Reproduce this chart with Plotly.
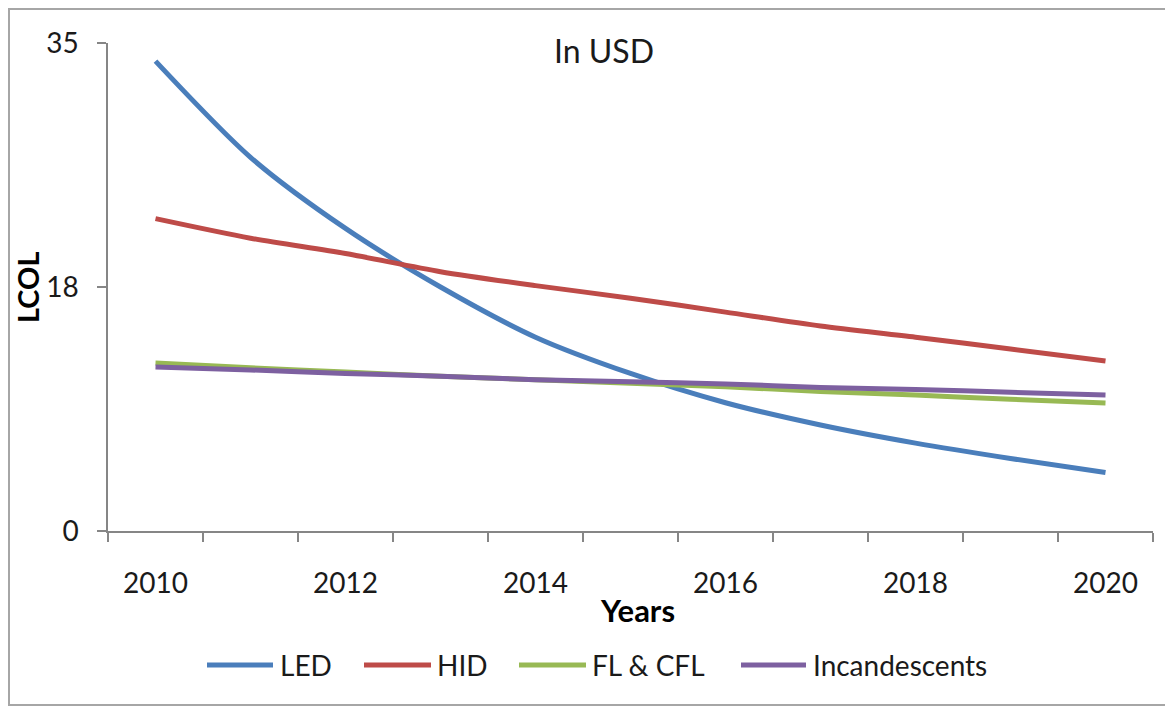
import plotly.graph_objects as go

years = list(range(2010, 2021))
led = [33.7, 26.8, 21.7, 17.5, 13.9, 11.3, 9.2, 7.6, 6.3, 5.2, 4.2]
hid = [22.4, 21.0, 19.9, 18.6, 17.6, 16.7, 15.7, 14.7, 13.9, 13.05, 12.2]
fl_cfl = [12.05, 11.7, 11.4, 11.1, 10.85, 10.6, 10.35, 10.0, 9.75, 9.45, 9.18]
incandescent = [11.76, 11.55, 11.3, 11.1, 10.85, 10.7, 10.55, 10.3, 10.15, 9.95, 9.75]

y_tickvals = [0, 17.5, 35]
y_ticktext = ["0", "18", "35"]
x_tickvals = [2010, 2012, 2014, 2016, 2018, 2020]

SERIES = [
    ("LED", led, "#4A7EBB"),
    ("HID", hid, "#BE4B48"),
    ("FL & CFL", fl_cfl, "#98B954"),
    ("Incandescents", incandescent, "#7D60A0"),
]

FONT = "Lato, 'Open Sans', sans-serif"
AXIS_GREY = "#868686"

# the page body has an 8px margin, so the figure is sized and offset for it
PLOT_LEFT, PLOT_RIGHT, PLOT_TOP, PLOT_BOTTOM = 108, 1153, 43, 531


def px_x(px):
    return (px - PLOT_LEFT) / (PLOT_RIGHT - PLOT_LEFT)


def px_y(py):
    return (PLOT_BOTTOM - py) / (PLOT_BOTTOM - PLOT_TOP)


fig = go.Figure()
for name, values, color in SERIES:
    fig.add_trace(
        go.Scatter(
            x=years,
            y=values,
            name=name,
            mode="lines",
            line=dict(color=color, width=5, shape="spline", smoothing=0.8),
            showlegend=False,
        )
    )

# hand-drawn legend with long Excel-style swatches
legend_pos = [(207, 273, 278), (364, 431, 435), (519, 586, 590), (741, 806, 811)]
legend_y = px_y(665)
shapes = [
    dict(type="rect", xref="paper", yref="paper",
         x0=px_x(9), x1=px_x(1169), y0=px_y(705), y1=px_y(9),
         line=dict(color="#a6a6a6", width=2), layer="below"),
]
annotations = [
    dict(text="In USD", x=px_x(604), y=px_y(50), xref="paper", yref="paper",
         xanchor="center", yanchor="middle", showarrow=False,
         font=dict(size=32)),
    dict(text="<b>Years</b>", x=px_x(637), y=px_y(610), xref="paper", yref="paper",
         xanchor="center", yanchor="middle", showarrow=False,
         font=dict(size=31, color="black")),
    dict(text="<b>LCOL</b>", x=px_x(27), y=px_y(287), xref="paper", yref="paper",
         xanchor="center", yanchor="middle", showarrow=False, textangle=-90,
         font=dict(size=29, color="black")),
]
for (name, _, color), (l0, l1, tx) in zip(SERIES, legend_pos):
    shapes.append(dict(type="line", xref="paper", yref="paper",
                       x0=px_x(l0), x1=px_x(l1), y0=legend_y, y1=legend_y,
                       line=dict(color=color, width=5)))
    annotations.append(dict(text=name, x=px_x(tx), y=legend_y, xref="paper",
                            yref="paper", xanchor="left", yanchor="middle",
                            showarrow=False, font=dict(size=28)))

fig.update_layout(
    width=1165,
    height=702,
    margin=dict(l=100, r=20, t=35, b=179),
    paper_bgcolor="white",
    plot_bgcolor="white",
    font=dict(family=FONT, color="#1a1a1a", size=28),
    showlegend=False,
    xaxis=dict(
        range=[2009.5, 2020.5],
        tickvals=x_tickvals,
        ticks="",
        showgrid=False,
        zeroline=False,
        showline=True,
        linecolor=AXIS_GREY,
        linewidth=1.5,
        ticklabelstandoff=27,
        tickfont=dict(size=28),
        minor=dict(
            tick0=2009.5,
            dtick=1,
            ticks="outside",
            ticklen=9,
            tickcolor=AXIS_GREY,
            tickwidth=1.5,
            showgrid=False,
        ),
    ),
    yaxis=dict(
        range=[0, 35],
        tickvals=y_tickvals,
        ticktext=y_ticktext,
        ticks="outside",
        ticklen=9,
        tickcolor=AXIS_GREY,
        tickwidth=1.5,
        showgrid=False,
        zeroline=False,
        showline=True,
        linecolor=AXIS_GREY,
        linewidth=1.5,
        ticklabelstandoff=13,
        tickfont=dict(size=28),
    ),
    annotations=annotations,
    shapes=shapes,
)

fig.write_html("out.html")
